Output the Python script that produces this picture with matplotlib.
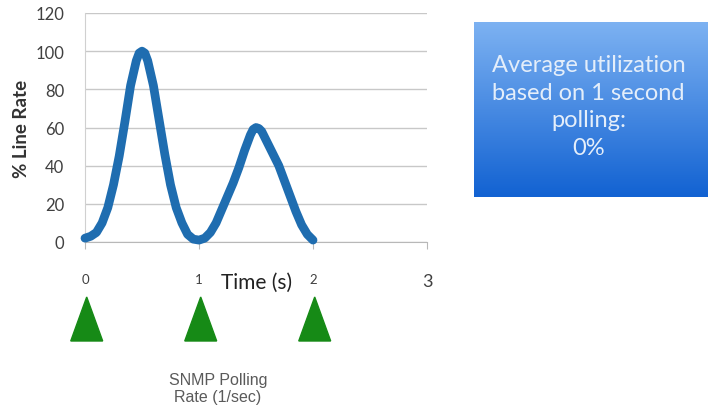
import numpy as np
import matplotlib
matplotlib.use("Agg")
import matplotlib.pyplot as plt
from matplotlib.patches import Polygon

# ---- data ----
time_s = [0.00, 0.05, 0.10, 0.15, 0.20, 0.25, 0.30, 0.35, 0.40, 0.45, 0.475,
          0.50, 0.525, 0.55, 0.60, 0.65, 0.70, 0.75, 0.80, 0.85, 0.90, 0.95,
          1.00, 1.05, 1.10, 1.15, 1.20, 1.25, 1.30, 1.35, 1.40, 1.45, 1.475,
          1.50, 1.525, 1.55, 1.60, 1.65, 1.70, 1.75, 1.80, 1.85, 1.90, 1.95,
          2.00]
line_rate = [2, 3, 5, 10, 18, 30, 45, 63, 82, 95, 99,
             100, 99, 95, 82, 64, 46, 30, 18, 10, 4, 1.5,
             1, 2, 5, 10, 17, 24, 31, 39, 48, 56, 59,
             60, 59.5, 58, 52, 46, 40, 32, 24, 16, 9, 4,
             1]
y_ticks = [0, 20, 40, 60, 80, 100, 120]
x_ticks = [0, 1, 2, 3]
x_tick_labels = ["0", "1", "2", "3"]
polling_times = [0, 1, 2]
box_text = "Average utilization\nbased on 1 second\npolling:\n0%"

W, H = 710, 406
fig = plt.figure(figsize=(W / 100, H / 100), dpi=100)

def fx(px):
    return px / W

def fy(py):
    return 1 - py / H

# main axes
x0, x1, ytop, ybot = 85, 427, 14, 243
ax = fig.add_axes([fx(x0), fy(ybot), fx(x1 - x0), fy(ytop) - fy(ybot)])
ax.plot(time_s, line_rate, color="#1f6db0", lw=6.3, solid_joinstyle="round",
        solid_capstyle="round", zorder=3, clip_on=False)
ax.set_xlim(0, 3)
ax.set_ylim(0, 120)
ax.set_yticks(y_ticks)
ax.set_yticklabels([str(v) for v in y_ticks], fontsize=12, color="#404040",
                   family="Lato")
ax.yaxis.grid(True, color="#c8c8c8", lw=1.0)
ax.set_axisbelow(True)
for s in ["top", "right"]:
    ax.spines[s].set_visible(False)
ax.spines["left"].set_color("#d0d0d0")
ax.spines["bottom"].set_color("#b8b8b8")
ax.tick_params(axis="y", length=0, pad=15)
ax.tick_params(axis="x", length=5, color="#b8b8b8", pad=17)
ax.set_xticks(x_ticks)
ax.set_xticklabels(x_tick_labels, fontsize=9.5, color="#404040", family="Lato")
ax.get_xticklabels()[3].set_fontsize(13)
ax.set_ylabel("% Line Rate", fontsize=13.5, fontweight="bold", color="#333333",
              family="Lato", labelpad=4)

fig.text(fx(257), fy(283), "Time (s)", fontsize=15, color="#222222",
         family="Lato", ha="center", va="center")

# polling triangles
ty_top, ty_bot = 298, 342
ax2 = fig.add_axes([fx(x0), fy(ty_bot), fx(x1 - x0), fy(ty_top) - fy(ty_bot)])
ax2.set_xlim(0, 3)
ax2.set_ylim(0, 1)
ax2.axis("off")
half_w = 0.14
for t in polling_times:
    ax2.add_patch(Polygon([(t + 0.015 - half_w, 0), (t + 0.015 + half_w, 0),
                           (t + 0.015, 1)], closed=True, color="#168a16",
                          clip_on=False))

fig.text(fx(218), fy(389), "SNMP Polling\nRate (1/sec)", fontsize=11.5,
         color="#5a5a5a", family="Liberation Sans", ha="center", va="center",
         linespacing=1.12)

# blue gradient box
bx0, bx1, by0, by1 = 474, 708, 23, 198
axb = fig.add_axes([fx(bx0), fy(by1), fx(bx1 - bx0), fy(by0) - fy(by1)])
top = np.array([125, 178, 242]) / 255
bot = np.array([18, 98, 210]) / 255
g = np.linspace(0, 1, 256)[:, None]
img = top[None, None, :] * (1 - g[..., None]) + bot[None, None, :] * g[..., None]
img = np.repeat(img, 2, axis=1)
axb.imshow(img, aspect="auto", extent=[0, 1, 0, 1], origin="upper")
axb.set_xlim(0, 1)
axb.set_ylim(0, 1)
axb.axis("off")
axb.text(0.49, 0.52, box_text, fontsize=17, color="#e4eefa", family="Lato",
         ha="center", va="center", linespacing=1.38, transform=axb.transAxes)

fig.savefig("out.png", dpi=100)
